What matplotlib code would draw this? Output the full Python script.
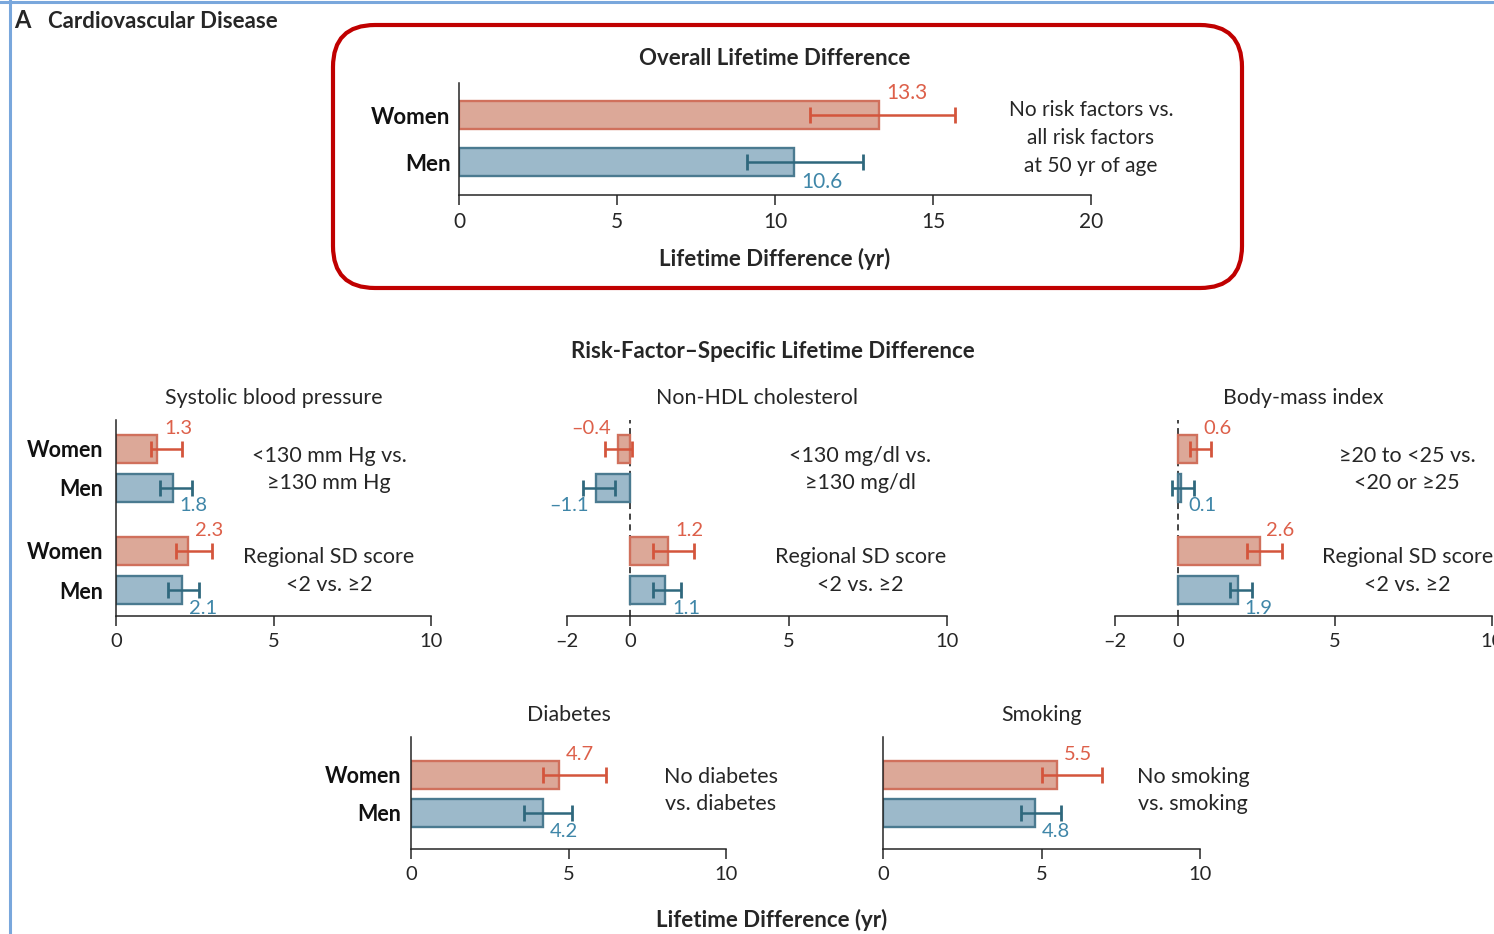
import matplotlib
matplotlib.use("Agg")
import matplotlib.pyplot as plt
from matplotlib.patches import FancyBboxPatch
from matplotlib.lines import Line2D

# ---------------- data ----------------
groups = ["Women", "Men"]

overall_est = [13.3, 10.6]
overall_lo = [11.1, 9.1]
overall_hi = [15.7, 12.8]

sbp_est = [1.3, 1.8, 2.3, 2.1]
sbp_lo = [1.1, 1.4, 1.9, 1.65]
sbp_hi = [2.1, 2.4, 3.05, 2.65]

hdl_est = [-0.4, -1.1, 1.2, 1.1]
hdl_lo = [-0.8, -1.5, 0.7, 0.7]
hdl_hi = [0.05, -0.5, 2.0, 1.6]

bmi_est = [0.6, 0.1, 2.6, 1.9]
bmi_lo = [0.4, -0.2, 2.2, 1.65]
bmi_hi = [1.05, 0.5, 3.3, 2.35]

dm_est = [4.7, 4.2]
dm_lo = [4.2, 3.6]
dm_hi = [6.2, 5.1]

smk_est = [5.5, 4.8]
smk_lo = [5.0, 4.35]
smk_hi = [6.9, 5.6]

overall_note = "No risk factors vs.\nall risk factors\nat 50 yr of age"
sbp_notes = ["<130 mm Hg vs.\n\u2265130 mm Hg", "Regional SD score\n<2 vs. \u22652"]
hdl_notes = ["<130 mg/dl vs.\n\u2265130 mg/dl", "Regional SD score\n<2 vs. \u22652"]
bmi_notes = ["\u226520 to <25 vs.\n<20 or \u226525", "Regional SD score\n<2 vs. \u22652"]
dm_note = "No diabetes\nvs. diabetes"
smk_note = "No smoking\nvs. smoking"

ticks_pos = [0, 5, 10]
ticks_neg = [-2, 0, 5, 10]
ticks_overall = [0, 5, 10, 15, 20]

# ---------------- style ----------------
FONT = "Lato"
plt.rcParams["font.family"] = [FONT, "DejaVu Sans"]

W_FILL, W_EDGE, W_ERR, W_TXT = "#dca898", "#d0705c", "#d4553c", "#dd604a"
M_FILL, M_EDGE, M_ERR, M_TXT = "#9cb9ca", "#4a7a90", "#2f687d", "#3f86a8"
INK = "#262626"

FW, FH = 1494, 934
fig = plt.figure(figsize=(FW / 100, FH / 100), dpi=100)


def add_axes_px(x0, x1, y_top, y_bot):
    return fig.add_axes([x0 / FW, 1 - y_bot / FH, (x1 - x0) / FW, (y_bot - y_top) / FH])


def style_axis(ax, xlim, ticks, tick_labels, zero_dashed, tick_fs):
    ax.set_xlim(*xlim)
    ax.set_xticks(ticks)
    ax.set_xticklabels(tick_labels, fontsize=tick_fs, color=INK)
    ax.tick_params(axis="x", direction="out", length=7, width=1.1, pad=5, colors=INK)
    for s in ("top", "right"):
        ax.spines[s].set_visible(False)
    ax.spines["bottom"].set_color(INK)
    ax.spines["bottom"].set_linewidth(1.1)
    if zero_dashed:
        ax.spines["left"].set_visible(False)
        ax.axvline(0, color="#111111", lw=1.1, ls=(0, (4, 3)), zorder=1)
    else:
        ax.spines["left"].set_color(INK)
        ax.spines["left"].set_linewidth(1.1)
    ax.set_facecolor("none")


def draw_bars(ax, rows, est, lo, hi, height, fs, capsize=5.5):
    for i, (y, v, l, h) in enumerate(zip(rows, est, lo, hi)):
        women = (i % 2 == 0)
        fill, edge, err, txt = (W_FILL, W_EDGE, W_ERR, W_TXT) if women else (M_FILL, M_EDGE, M_ERR, M_TXT)
        ax.barh(y, v, height=height, color=fill, edgecolor=edge, linewidth=1.7, zorder=2)
        ax.errorbar(v, y, xerr=[[v - l], [h - v]], fmt="none", ecolor=err,
                    elinewidth=1.8, capsize=capsize, capthick=2.0, zorder=3)
        label = f"{v:.1f}".replace("-", "\u2013")
        sign = 1 if v >= 0 else -1
        ha = "left" if v >= 0 else "right"
        if women:
            ax.annotate(label, xy=(v, y - height / 2), xytext=(5 * sign, 1),
                        textcoords="offset points", ha=ha, va="baseline",
                        fontsize=fs, color=txt, annotation_clip=False)
        else:
            ax.annotate(label, xy=(v, y + height / 2), xytext=(5 * sign, 3),
                        textcoords="offset points", ha=ha, va="top",
                        fontsize=fs, color=txt, annotation_clip=False)


# ---------------- outer frame ----------------
fig.add_artist(Line2D([0, 1], [1 - 1.5 / FH] * 2, transform=fig.transFigure,
                      color="#79a7dc", lw=2.2))
fig.add_artist(Line2D([9.5 / FW] * 2, [0, 1], transform=fig.transFigure,
                      color="#79a7dc", lw=2.2))

fig.text(14 / FW, 1 - 20 / FH, "A", fontsize=17, fontweight="bold", color=INK,
         ha="left", va="center")
fig.text(48 / FW, 1 - 21 / FH, "Cardiovascular Disease", fontsize=16,
         fontweight="bold", color=INK, ha="left", va="center")

# highlighted box around the overall panel
box = FancyBboxPatch((3.33, (FH - 288) / 100), 9.09, 2.63,
                     boxstyle="round,pad=0,rounding_size=0.42",
                     transform=fig.dpi_scale_trans, fill=False,
                     edgecolor="#c00000", linewidth=3.0)
fig.patches.append(box)

# ---------------- overall panel ----------------
ax = add_axes_px(459, 1091, 83, 195)
rows2 = [0, 1]
draw_bars(ax, rows2, overall_est, overall_lo, overall_hi, 0.6, 15)
ax.set_ylim(1.70, -0.68)
style_axis(ax, (0, 20), ticks_overall, [str(t) for t in ticks_overall], False, 15)
ax.set_yticks(rows2)
ax.set_yticklabels(groups, fontsize=16, fontweight="bold", color="#111111")
ax.tick_params(axis="y", length=0, pad=6)
ax.set_title("Overall Lifetime Difference", fontsize=16, fontweight="bold",
             color=INK, pad=13)
ax.set_xlabel("Lifetime Difference (yr)", fontsize=16, fontweight="bold",
              color=INK, labelpad=12)
ax.text(20, 0.49, overall_note, ha="center", va="center", fontsize=15,
        color=INK, linespacing=1.5)

# ---------------- section heading ----------------
fig.text(773 / FW, 1 - 352 / FH, "Risk-Factor\u2013Specific Lifetime Difference",
         fontsize=16, fontweight="bold", color=INK, ha="center", va="center")

# ---------------- four-bar panels ----------------
rows4 = [0, 1, 2.615, 3.615]
four = [
    ("Systolic blood pressure", (116, 431), (0, 10), ticks_pos, sbp_est, sbp_lo, sbp_hi, sbp_notes, 6.76, True, False),
    ("Non-HDL cholesterol", (567, 947), (-2, 10), ticks_neg, hdl_est, hdl_lo, hdl_hi, hdl_notes, 7.26, False, True),
    ("Body-mass index", (1115, 1492), (-2, 10), ticks_neg, bmi_est, bmi_lo, bmi_hi, bmi_notes, 7.3, False, True),
]
for title, (x0, x1), xlim, ticks, est, lo, hi, notes, note_x, ylab, dashed in four:
    ax = add_axes_px(x0, x1, 420, 616)
    draw_bars(ax, rows4, est, lo, hi, 0.70, 14.5)
    ax.set_ylim(4.28, -0.74)
    style_axis(ax, xlim, ticks, [str(t).replace("-", "\u2013") for t in ticks], dashed, 14.5)
    if ylab:
        ax.set_yticks(rows4)
        ax.set_yticklabels(groups * 2, fontsize=15.5, fontweight="bold", color="#111111")
        ax.tick_params(axis="y", length=0, pad=9)
    else:
        ax.set_yticks([])
    ax.set_title(title, fontsize=15.4, color=INK, pad=11.5)
    ax.text(note_x, 0.52, notes[0], ha="center", va="center", fontsize=15.5,
            color=INK, linespacing=1.45, clip_on=False)
    ax.text(note_x, 3.13, notes[1], ha="center", va="center", fontsize=15.5,
            color=INK, linespacing=1.45, clip_on=False)

# ---------------- two-bar panels ----------------
two = [
    ("Diabetes", (411, 726), dm_est, dm_lo, dm_hi, dm_note, 9.84, True),
    ("Smoking", (883, 1200), smk_est, smk_lo, smk_hi, smk_note, 9.78, False),
]
for title, (x0, x1), est, lo, hi, note, note_x, ylab in two:
    ax = add_axes_px(x0, x1, 737, 849)
    draw_bars(ax, rows2, est, lo, hi, 0.74, 14.5)
    ax.set_ylim(1.95, -1.0)
    style_axis(ax, (0, 10), ticks_pos, [str(t) for t in ticks_pos], False, 14.5)
    if ylab:
        ax.set_yticks(rows2)
        ax.set_yticklabels(groups, fontsize=15.5, fontweight="bold", color="#111111")
        ax.tick_params(axis="y", length=0, pad=7)
    else:
        ax.set_yticks([])
    ax.set_title(title, fontsize=15.4, color=INK, pad=11.5)
    ax.text(note_x, 0.40, note, ha="center", va="center", fontsize=15.5,
            color=INK, linespacing=1.45, clip_on=False)

fig.text(772 / FW, 1 - 920 / FH, "Lifetime Difference (yr)", fontsize=16,
         fontweight="bold", color=INK, ha="center", va="center")

fig.savefig("out.png", dpi=100, facecolor="white")
